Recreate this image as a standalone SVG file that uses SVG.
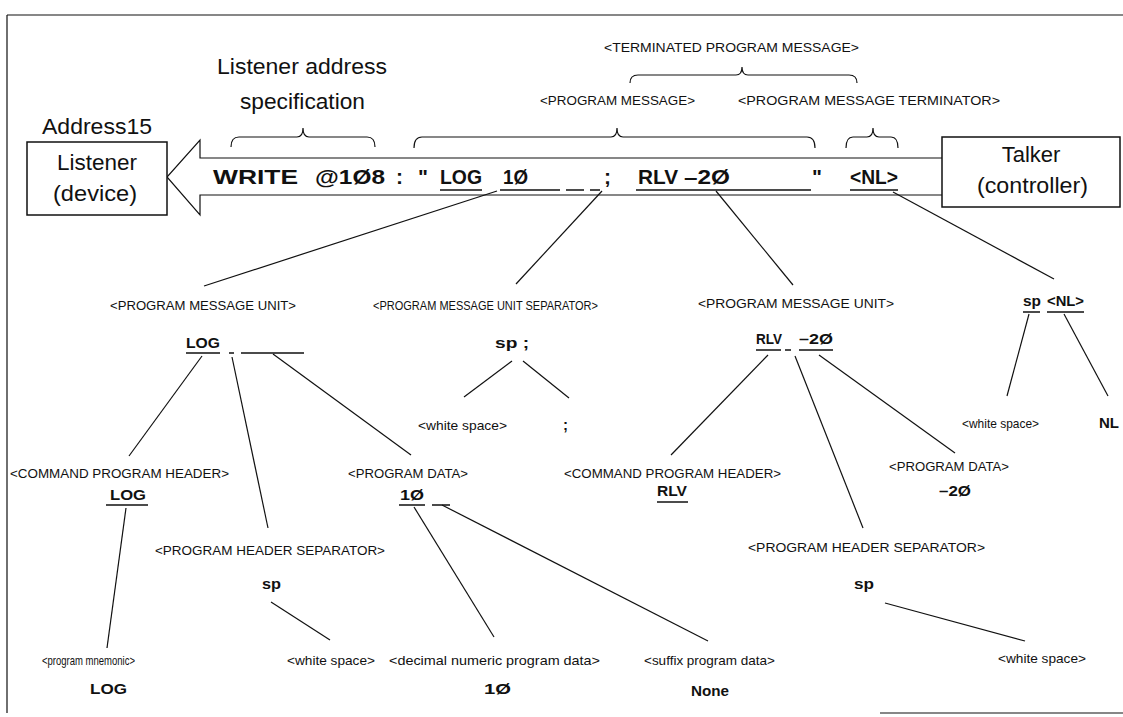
<svg xmlns="http://www.w3.org/2000/svg" width="1123" height="717" viewBox="0 0 1123 717">
<style>
.t{font-family:"Liberation Sans",Arial,Helvetica,sans-serif;fill:#111}
.big{font-size:22px}
.lab{font-size:13px}
.b{font-size:15px;font-weight:bold}
.w{font-size:21px;font-weight:bold}
.ln{stroke:#111;stroke-width:1.2;fill:none}
.ul{stroke:#111;stroke-width:1.5;fill:none}
.box{fill:#fff;stroke:#111;stroke-width:1.5}
</style>
<rect width="1123" height="717" fill="#fff"/>
<g id="frame"><path class="ln" stroke-width="1.5" d="M7,15H1123M7,15V713M880,713H1123"/></g>

<g id="listener-address">
 <text class="t big" x="217" y="74" textLength="170" lengthAdjust="spacingAndGlyphs">Listener address</text>
 <text class="t big" x="240" y="109" textLength="125" lengthAdjust="spacingAndGlyphs">specification</text>
 <path class="ln" d="M231,147Q231,137 239,137H297Q303,137 303,128Q303,137 309,137H367Q375,137 375,147"/>
</g>
<g id="terminated-program-message">
 <text class="t lab" x="604" y="52" textLength="255" lengthAdjust="spacingAndGlyphs">&lt;TERMINATED PROGRAM MESSAGE&gt;</text>
 <path class="ln" d="M630,83Q630,75 638,75H736Q742,75 742,67Q742,75 748,75H849Q857,75 857,83"/>
</g>
<g id="program-message">
 <text class="t lab" x="540" y="105" textLength="155" lengthAdjust="spacingAndGlyphs">&lt;PROGRAM MESSAGE&gt;</text>
 <path class="ln" d="M414,148Q414,137 422,137H611Q617,137 617,128Q617,137 623,137H807Q815,137 815,148"/>
</g>
<g id="program-message-terminator">
 <text class="t lab" x="738" y="105" textLength="262" lengthAdjust="spacingAndGlyphs">&lt;PROGRAM MESSAGE TERMINATOR&gt;</text>
 <path class="ln" d="M846,148Q846,137 853,137H867Q873,137 873,128Q873,137 879,137H891Q898,137 898,148"/>
</g>

<g id="arrow">
 <path class="ln" stroke-width="1.5" d="M942,158H200V140L167,177L200,215V195H942"/>
</g>
<g id="listener">
 <text class="t big" x="42" y="134" textLength="110" lengthAdjust="spacingAndGlyphs">Address15</text>
 <rect class="box" x="27" y="142" width="140" height="73"/>
 <text class="t big" x="57" y="170" textLength="80" lengthAdjust="spacingAndGlyphs">Listener</text>
 <text class="t big" x="53" y="201" textLength="84" lengthAdjust="spacingAndGlyphs">(device)</text>
</g>
<g id="talker">
 <rect class="box" x="942" y="137" width="178" height="70"/>
 <text class="t big" x="1031" y="162" text-anchor="middle">Talker</text>
 <text class="t big" x="977" y="193" textLength="111" lengthAdjust="spacingAndGlyphs">(controller)</text>
</g>

<g id="write-statement">
 <text class="t w" x="213" y="184" textLength="85" lengthAdjust="spacingAndGlyphs">WRITE</text>
 <text class="t w" x="315" y="184" textLength="70" lengthAdjust="spacingAndGlyphs">@1Ø8</text>
 <text class="t w" x="396" y="184">:</text>
 <text class="t w" x="418" y="184">"</text>
 <text class="t w" x="440" y="184" textLength="42" lengthAdjust="spacingAndGlyphs">LOG</text>
 <text class="t w" x="503" y="184" textLength="25" lengthAdjust="spacingAndGlyphs">1Ø</text>
 <text class="t w" x="604" y="184">;</text>
 <text class="t w" x="638" y="184" textLength="40" lengthAdjust="spacingAndGlyphs">RLV</text>
 <text class="t w" x="684" y="184" textLength="46" lengthAdjust="spacingAndGlyphs">–2Ø</text>
 <text class="t w" x="812" y="184">"</text>
 <text class="t w" x="850" y="184" textLength="48" lengthAdjust="spacingAndGlyphs">&lt;NL&gt;</text>
 <path class="ul" d="M440,190H482M500,190H560M566,190H584M590,190H600M636,190H811M850,190H898"/>
</g>

<g id="connectors" class="ln">
 <path d="M497,191L204,286"/>
 <path d="M602,191L516,284"/>
 <path d="M716,191L793,285"/>
 <path d="M893,192L1054,279"/>
 <path d="M202,356L129,456"/>
 <path d="M232,357L268,528"/>
 <path d="M273,354L411,455"/>
 <path d="M512,361L464,397"/>
 <path d="M523,361L569,398"/>
 <path d="M768,355L671,455"/>
 <path d="M795,356L863,528"/>
 <path d="M819,355L955,453"/>
 <path d="M1029,314L1007,396"/>
 <path d="M1064,314L1108,396"/>
 <path d="M126,508L107,648"/>
 <path d="M271,602L330,640"/>
 <path d="M414,507L494,637"/>
 <path d="M442,505L708,641"/>
 <path d="M885,603L1025,641"/>
</g>

<g id="pmu-left">
 <text class="t lab" x="110" y="310" textLength="186" lengthAdjust="spacingAndGlyphs">&lt;PROGRAM MESSAGE UNIT&gt;</text>
 <text class="t b" x="186" y="348" textLength="34" lengthAdjust="spacingAndGlyphs">LOG</text>
 <path class="ul" d="M186,353H220M229,353H234M241,353H304"/>
</g>
<g id="pmu-separator">
 <text class="t lab" x="373" y="310" textLength="225" lengthAdjust="spacingAndGlyphs">&lt;PROGRAM MESSAGE UNIT SEPARATOR&gt;</text>
 <text class="t b" x="495" y="348" textLength="34" lengthAdjust="spacingAndGlyphs">sp ;</text>
</g>
<g id="pmu-right">
 <text class="t lab" x="698" y="308" textLength="196" lengthAdjust="spacingAndGlyphs">&lt;PROGRAM MESSAGE UNIT&gt;</text>
 <text class="t b" x="756" y="344" textLength="26" lengthAdjust="spacingAndGlyphs">RLV</text>
 <text class="t b" x="799" y="344" textLength="34" lengthAdjust="spacingAndGlyphs">–2Ø</text>
 <path class="ul" d="M756,350H781M785,350H791M799,350H833"/>
</g>
<g id="terminator">
 <text class="t b" x="1023" y="306" textLength="18" lengthAdjust="spacingAndGlyphs">sp</text>
 <text class="t b" x="1047" y="306" textLength="37" lengthAdjust="spacingAndGlyphs">&lt;NL&gt;</text>
 <path class="ul" d="M1023,312H1040M1047,312H1084"/>
</g>

<g id="ws-separator">
 <text class="t lab" x="418" y="430" textLength="89" lengthAdjust="spacingAndGlyphs">&lt;white space&gt;</text>
</g>
<g id="semicolon">
 <text class="t b" x="563" y="430">;</text>
</g>
<g id="ws-terminator">
 <text class="t lab" x="962" y="428" textLength="77" lengthAdjust="spacingAndGlyphs">&lt;white space&gt;</text>
</g>
<g id="nl">
 <text class="t b" x="1099" y="428">NL</text>
</g>

<g id="cph-left">
 <text class="t lab" x="10" y="478" textLength="219" lengthAdjust="spacingAndGlyphs">&lt;COMMAND PROGRAM HEADER&gt;</text>
 <text class="t b" x="110" y="500" textLength="36" lengthAdjust="spacingAndGlyphs">LOG</text>
 <path class="ul" d="M106,505H148"/>
</g>
<g id="pd-left">
 <text class="t lab" x="348" y="478" textLength="120" lengthAdjust="spacingAndGlyphs">&lt;PROGRAM DATA&gt;</text>
 <text class="t b" x="400" y="500" textLength="24" lengthAdjust="spacingAndGlyphs">1Ø</text>
 <path class="ul" d="M399,505H425M432,505H450"/>
</g>
<g id="phs-left">
 <text class="t lab" x="155" y="555" textLength="230" lengthAdjust="spacingAndGlyphs">&lt;PROGRAM HEADER SEPARATOR&gt;</text>
 <text class="t b" x="262" y="589" textLength="19" lengthAdjust="spacingAndGlyphs">sp</text>
</g>
<g id="mnemonic">
 <text class="t lab" x="42" y="665" textLength="93" lengthAdjust="spacingAndGlyphs">&lt;program mnemonic&gt;</text>
 <text class="t b" x="90" y="694" textLength="37" lengthAdjust="spacingAndGlyphs">LOG</text>
</g>
<g id="ws-left">
 <text class="t lab" x="287" y="665" textLength="88" lengthAdjust="spacingAndGlyphs">&lt;white space&gt;</text>
</g>
<g id="decimal">
 <text class="t lab" x="389" y="665" textLength="211" lengthAdjust="spacingAndGlyphs">&lt;decimal numeric program data&gt;</text>
 <text class="t b" x="484" y="694" textLength="27" lengthAdjust="spacingAndGlyphs">1Ø</text>
</g>
<g id="suffix">
 <text class="t lab" x="644" y="665" textLength="131" lengthAdjust="spacingAndGlyphs">&lt;suffix program data&gt;</text>
 <text class="t b" x="691" y="696" textLength="38" lengthAdjust="spacingAndGlyphs">None</text>
</g>

<g id="cph-right">
 <text class="t lab" x="564" y="478" textLength="217" lengthAdjust="spacingAndGlyphs">&lt;COMMAND PROGRAM HEADER&gt;</text>
 <text class="t b" x="657" y="496" textLength="30" lengthAdjust="spacingAndGlyphs">RLV</text>
 <path class="ul" d="M657,502H688"/>
</g>
<g id="pd-right">
 <text class="t lab" x="889" y="471" textLength="120" lengthAdjust="spacingAndGlyphs">&lt;PROGRAM DATA&gt;</text>
 <text class="t b" x="939" y="496" textLength="32" lengthAdjust="spacingAndGlyphs">–2Ø</text>
</g>
<g id="phs-right">
 <text class="t lab" x="748" y="552" textLength="237" lengthAdjust="spacingAndGlyphs">&lt;PROGRAM HEADER SEPARATOR&gt;</text>
 <text class="t b" x="854" y="589" textLength="20" lengthAdjust="spacingAndGlyphs">sp</text>
</g>
<g id="ws-right">
 <text class="t lab" x="998" y="663" textLength="88" lengthAdjust="spacingAndGlyphs">&lt;white space&gt;</text>
</g>
</svg>
